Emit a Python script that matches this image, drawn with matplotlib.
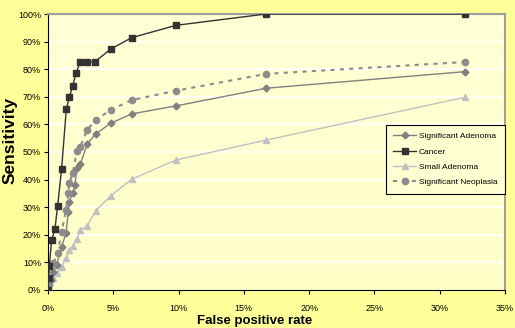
import matplotlib.pyplot as plt
import numpy as np
from matplotlib.ticker import PercentFormatter

plt.rcParams['font.family'] = ['Liberation Sans', 'DejaVu Sans']

# False positive rate (%) and sensitivity (%) for each curve
cancer_fpr = [0.0, 0.05, 0.1, 0.28, 0.53, 0.74, 1.04, 1.4, 1.63, 1.89, 2.14, 2.47, 3.0, 3.6, 4.8, 6.4, 9.8, 16.7, 31.9]
cancer_sens = [0.0, 4.5, 8.8, 18.0, 22.0, 30.5, 43.8, 65.4, 69.8, 73.9, 78.5, 82.7, 82.7, 82.7, 87.3, 91.4, 95.9, 100.0, 100.0]

sig_adenoma_fpr = [0.0, 0.05, 0.2, 0.4, 0.66, 1.04, 1.38, 1.55, 1.63, 1.89, 2.06, 2.22, 2.47, 3.0, 3.64, 4.8, 6.4, 9.8, 16.7, 31.9]
sig_adenoma_sens = [0.0, 1.8, 3.6, 6.6, 9.0, 15.7, 20.5, 28.4, 32.0, 35.0, 38.0, 44.1, 45.5, 52.9, 56.5, 60.4, 63.8, 66.7, 73.1, 79.1]

small_adenoma_fpr = [0.0, 0.1, 0.4, 0.66, 1.04, 1.38, 1.63, 1.89, 2.22, 2.47, 3.0, 3.64, 4.8, 6.4, 9.8, 16.7, 31.9]
small_adenoma_sens = [1.0, 2.4, 4.2, 6.0, 8.5, 11.5, 14.5, 15.9, 18.4, 21.7, 23.2, 28.7, 34.1, 40.1, 47.1, 54.3, 69.8]

sig_neoplasia_fpr = [0.0, 0.1, 0.4, 0.74, 1.04, 1.38, 1.55, 1.63, 1.89, 2.22, 2.47, 3.0, 3.64, 4.8, 6.4, 9.8, 16.7, 31.9]
sig_neoplasia_sens = [0.0, 3.0, 9.7, 13.3, 21.0, 29.0, 35.0, 38.6, 42.3, 50.5, 51.9, 58.0, 61.6, 65.2, 68.8, 72.2, 78.3, 82.6]

fig = plt.figure(figsize=(5.15, 3.28), dpi=100)
fig.patch.set_facecolor('#FFFF99')
ax = fig.add_axes([0.0932, 0.1159, 0.8874, 0.8414])

# soft gradient for the plot area
grad = np.linspace(0, 1, 256).reshape(-1, 1)
ax.imshow(grad, extent=[0, 35, 0, 100], aspect='auto', zorder=0,
          cmap=plt.matplotlib.colors.LinearSegmentedColormap.from_list('bg', ['#FFFFC8', '#FFFFD6']),
          origin='lower')

for y in range(10, 100, 10):
    ax.axhline(y, color='white', lw=1.2, zorder=1)

ax.plot(sig_adenoma_fpr, sig_adenoma_sens, color='#808080', lw=1.0, marker='D',
        ms=3.5, mec='#808080', label='Significant Adenoma', zorder=3)
ax.plot(cancer_fpr, cancer_sens, color='#333333', lw=1.0, marker='s',
        ms=4.5, label='Cancer', zorder=4)
ax.plot(small_adenoma_fpr, small_adenoma_sens, color='#C0C0C0', lw=1.0, marker='^',
        ms=4.5, label='Small Adenoma', zorder=2)
ax.plot(sig_neoplasia_fpr, sig_neoplasia_sens, color='#8C8C8C', lw=1.5, ls=(0, (2, 2.5)),
        marker='o', ms=4.5, label='Significant Neoplasia', zorder=3)

ax.set_xlim(0, 35)
ax.set_ylim(0, 100)
ax.set_xticks(range(0, 36, 5))
ax.set_yticks(range(0, 101, 10))
ax.xaxis.set_major_formatter(PercentFormatter(decimals=0))
ax.yaxis.set_major_formatter(PercentFormatter(decimals=0))
ax.tick_params(labelsize=6.5, length=3, width=0.8, pad=7)
ax.tick_params(axis='y', pad=2)

ax.spines['left'].set_color('black')
ax.spines['bottom'].set_color('black')
ax.spines['top'].set_color('#A0A0A0')
ax.spines['right'].set_color('#A0A0A0')
ax.spines['top'].set_linewidth(1.5)
ax.spines['right'].set_linewidth(1.5)

fig.text(255 / 515, 1 - 321 / 328, 'False positive rate', ha='center', va='center',
         fontsize=9.5, fontweight='bold')
fig.text(10 / 515, 1 - 140 / 328, 'Sensitivity', rotation=90, ha='center', va='center',
         fontsize=12.5, fontweight='bold')

leg = ax.legend(loc='upper right', bbox_to_anchor=(1.0, 0.598), borderaxespad=0,
                fontsize=6, frameon=True, fancybox=False, handlelength=2.8,
                borderpad=0.9, labelspacing=0.9, handletextpad=0.3)
leg.get_frame().set_edgecolor('black')
leg.get_frame().set_facecolor('#FFFFD2')
leg.get_frame().set_linewidth(0.8)
leg.get_frame().set_alpha(1)

fig.savefig('out.png', dpi=100, facecolor=fig.get_facecolor())
